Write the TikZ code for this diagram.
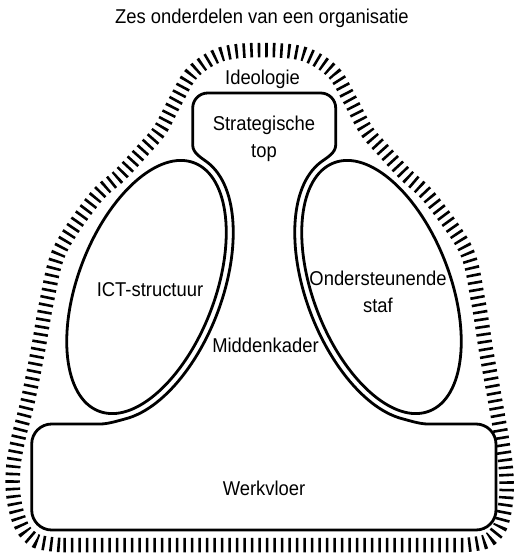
\documentclass[tikz,border=0pt]{standalone}
\usepackage{fontspec}
\setmainfont[FakeStretch=0.92]{Liberation Sans}
\begin{document}
\begin{tikzpicture}[x=1pt,y=-1pt,
  % tilted ellipse of the left wing and its outward offset curve
  declare function={
    elx(\t)=146.5+47.67*cos(\t)+63.95*sin(\t);
    ely(\t)=287-124.17*cos(\t)+24.55*sin(\t);
    nrm(\t)=sqrt(0.26526*cos(\t)*cos(\t)+sin(\t)*sin(\t));
    ofx(\t)=elx(\t)+7*(0.18459*cos(\t)+0.93361*sin(\t))/nrm(\t);
    ofy(\t)=ely(\t)+7*(-0.48083*cos(\t)+0.35842*sin(\t))/nrm(\t);
  },
  outline/.style={line width=2.8pt, line join=round},
  band/.style={line width=14.5pt, dash pattern=on 2.6pt off 4.9pt},
  lbl/.style={font=\fontsize{20pt}{27pt}\selectfont, inner sep=0pt, align=center}
]
\useasboundingbox (0,0) rectangle (515,555);

% ideology: hatched band around the whole organisation
\draw[band] plot[smooth, tension=0.55] coordinates {
  (60,545) (36,541) (22,527) (14,500) (13,470) (18,440) (28,400) (38,350)
  (47,300) (60,250) (95,198) (120,175) (143,150) (160,130) (176,100) (193,72)
  (222,54) (263,50) (304,54) (333,72) (350,100) (366,130) (383,150) (406,175)
  (430,198) (466,250) (478,300) (486,350) (495,400) (502,440) (506,470)
  (506,500) (500,527) (487,541) (465,545)} -- cycle;

% strategic apex, middle line and operating core as one outline
\draw[outline]
  (192.7,145) -- (192.7,108) arc[start angle=180, end angle=90, radius=15pt]
  -- (320.7,93) arc[start angle=90, end angle=0, radius=15pt]
  -- (335.7,145) .. controls (335.7,153) and (327.0,157.5) .. (320.6,162.3)
  -- plot[domain=8.6:160, samples=60] ({528-ofx(\x)},{ofy(\x)})
  .. controls (410.5,420.9) and (420,424) .. (428,424)
  -- (476,424) arc[start angle=90, end angle=0, radius=20pt]
  -- (496,510) arc[start angle=0, end angle=-90, radius=20pt]
  -- (51.7,530) arc[start angle=270, end angle=180, radius=20pt]
  -- (31.7,444) arc[start angle=180, end angle=90, radius=20pt]
  -- (100,424) .. controls (108,424) and (117.5,420.9) .. (125.3,418.9)
  -- plot[domain=0:151.4, samples=60] ({ofx(160-\x)},{ofy(160-\x)})
  .. controls (201.0,157.5) and (192.7,153) .. (192.7,145) -- cycle;

% technostructure and support staff
\draw[outline, rotate around={69:(146.5,287)}]
  (146.5,287) ellipse [x radius=133pt, y radius=68.5pt];
\draw[outline, rotate around={-69:(381.5,287)}]
  (381.5,287) ellipse [x radius=133pt, y radius=68.5pt];

% labels (a two-line node sits on the baseline of its last line)
\node[lbl, anchor=base] (title) at (262,23) {Zes onderdelen van een organisatie};
\node[lbl, anchor=base] (ideo) at (262.5,84) {Ideologie};
\node[lbl, anchor=base] (apex) at (264,157) {Strategische\\top};
\node[lbl, anchor=base] (ict) at (150,296) {ICT-structuur};
\node[lbl, anchor=base] (staf) at (378,312) {Ondersteunende\\staf};
\node[lbl, anchor=base] (mid) at (265.5,352) {Middenkader};
\node[lbl, anchor=base] (werk) at (264,495) {Werkvloer};
\end{tikzpicture}
\end{document}
